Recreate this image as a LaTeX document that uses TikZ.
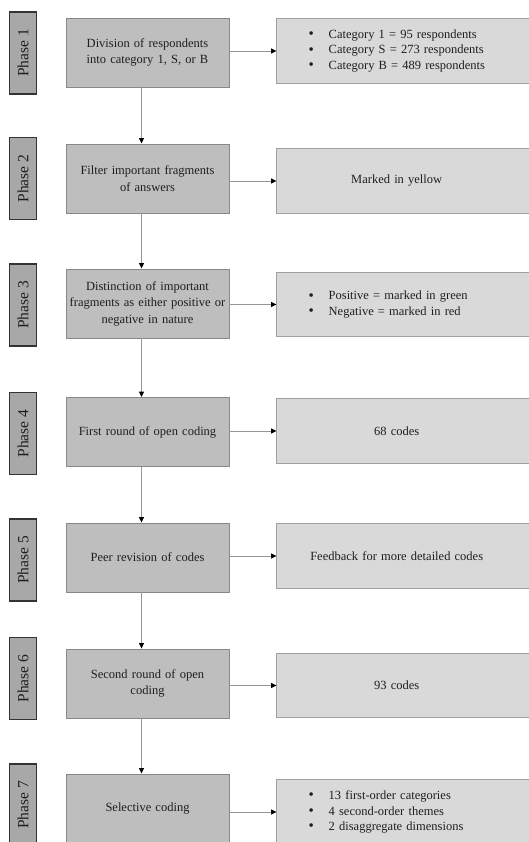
\documentclass[tikz,border=0pt]{standalone}
\usepackage{fontspec}
\setmainfont{Liberation Serif}
\usetikzlibrary{arrows.meta,backgrounds}
\definecolor{tabgray}{HTML}{A8A8A8}
\definecolor{tabline}{HTML}{333333}
\definecolor{midgray}{HTML}{BEBEBE}
\definecolor{midline}{HTML}{888888}
\definecolor{rgtgray}{HTML}{D9D9D9}
\definecolor{rgtline}{HTML}{A0A0A0}
\definecolor{linkgray}{HTML}{959595}
\definecolor{txtgray}{HTML}{1E1E1E}
\newcommand{\itm}[1]{\hspace*{32pt}\makebox[20pt][l]{\raisebox{-0.3pt}{\fontsize{15}{15}\selectfont\textbullet}}#1}
\begin{document}
\begin{tikzpicture}[x=1pt,y=1pt,
  font=\fontsize{12.5}{16.5}\selectfont, text=txtgray,
  tab/.style={rotate=90, draw=tabline, fill=tabgray, line width=1.2pt, minimum width=82pt, minimum height=27pt, inner sep=0pt, font=\fontsize{15.5}{18}\selectfont},
  mid/.style={draw=midline, fill=midgray, line width=0.9pt, minimum height=69pt, text width=161pt, inner xsep=1pt, align=center},
  rgt/.style={anchor=west, minimum height=64pt, text width=240pt, inner xsep=0pt, align=center},
  lst/.style={rgt, align=left, font=\fontsize{12.5}{15.5}\selectfont},
  rfill/.style={draw=rgtline, fill=rgtgray, line width=0.9pt},
  link/.style={draw=linkgray, line width=0.9pt, -{Triangle[length=5.5pt,width=5pt,black]}}]
        \useasboundingbox (0,0) rectangle (529,-842);
        \clip (0,0) rectangle (529,-842);
        % phase tabs
        \node[tab] (p1) at (23,-53) {Phase 1};
        \node[tab] (p2) at (23,-178.5) {Phase 2};
        \node[tab] (p3) at (23,-305) {Phase 3};
        \node[tab] (p4) at (23,-433.5) {Phase 4};
        \node[tab] (p5) at (23,-560) {Phase 5};
        \node[tab] (p6) at (23,-678.5) {Phase 6};
        \node[tab] (p7) at (23,-805) {Phase 7};
        % steps
        \node[mid] (m1) at (147.5,-52.5) {Division of respondents\\into category 1, S, or B};
        \node[mid] (m2) at (147.5,-178.5) {Filter important fragments\\of answers};
        \node[mid] (m3) at (147.5,-303.5) {Distinction of important\\fragments as either positive or\\negative in nature};
        \node[mid] (m4) at (147.5,-432) {First round of open coding};
        \node[mid] (m5) at (147.5,-557.5) {Peer revision of codes};
        \node[mid] (m6) at (147.5,-683.5) {Second round of open\\coding};
        \node[mid] (m7) at (147.5,-808.5) {Selective coding};
        % results
        \node[lst] (r1) at (276.5,-51) {\itm{Category 1 = 95 respondents}\\\itm{Category S = 273 respondents}\\\itm{Category B = 489 respondents}};
        \node[rgt] (r2) at (276.5,-181) {Marked in yellow};
        \node[lst] (r3) at (276.5,-304.5) {\itm{Positive = marked in green}\\\itm{Negative = marked in red}};
        \node[rgt] (r4) at (276.5,-431) {68 codes};
        \node[rgt] (r5) at (276.5,-556) {Feedback for more detailed codes};
        \node[rgt] (r6) at (276.5,-685.5) {93 codes};
        \node[lst] (r7) at (276.5,-812) {\itm{13 first-order categories}\\\itm{4 second-order themes}\\\itm{2 disaggregate dimensions}};
        \begin{scope}[on background layer]
        \foreach \i in {1,...,7}
          \draw[rfill] (r\i.south west) rectangle ([xshift=40pt]r\i.north east);
        \end{scope}
        % links
        \foreach \i in {1,...,7}
          \draw[link] (m\i.east |- r\i.west) -- (r\i.west);
        \foreach \a/\b in {1/2,2/3,3/4,4/5,5/6,6/7}
          \draw[link] ([xshift=-6pt]m\a.south) -- ([xshift=-6pt]m\b.north);
\end{tikzpicture}
\end{document}
